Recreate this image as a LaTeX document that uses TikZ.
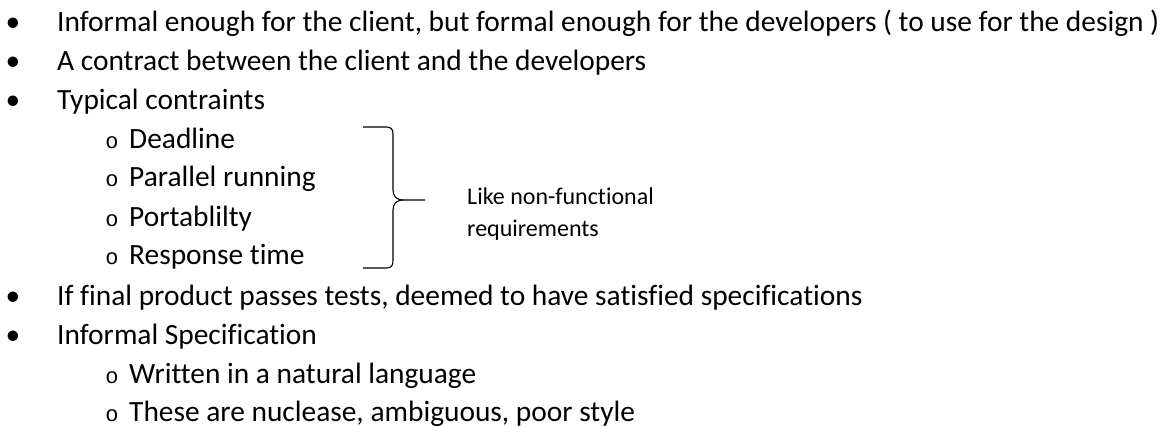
\documentclass[tikz,border=0pt]{standalone}
\usepackage{fontspec}
\setmainfont{Carlito}[Ligatures=NoCommon]
\newfontfamily\bulletmono{Liberation Mono}
\begin{document}
\begin{tikzpicture}[x=1pt,y=-1pt,
  itemtext/.style={anchor=base west,inner sep=0pt,font=\fontsize{29.4}{34}\selectfont},
  dotmark/.style={anchor=base,inner sep=0pt,font=\fontsize{29.4}{34}\selectfont},
  ringmark/.style={anchor=base,inner sep=0pt,font=\fontsize{22}{26}\bulletmono},
  notetext/.style={anchor=base west,inner sep=0pt,font=\fontsize{24}{28}\selectfont},
  bracepath/.style={line width=1.1pt}]
\useasboundingbox (0,0) rectangle (1165,427);
% top-level items
\node[dotmark] (d1) at (13,32) {•};
\node[itemtext] (t1) at (57,32) {Informal enough for the client, but formal enough for the developers ( to use for the design )};
\node[dotmark] (d2) at (13,71) {•};
\node[itemtext] (t2) at (57,71) {A contract between the client and the developers};
\node[dotmark] (d3) at (13,110) {•};
\node[itemtext] (t3) at (57,110) {Typical contraints};
% constraints
\node[ringmark] (r1) at (112,149) {o};
\node[itemtext] (s1) at (129,149) {Deadline};
\node[ringmark] (r2) at (112,187) {o};
\node[itemtext] (s2) at (129,187) {Parallel running};
\node[ringmark] (r3) at (112,227) {o};
\node[itemtext] (s3) at (129,227) {Portablilty};
\node[ringmark] (r4) at (112,265) {o};
\node[itemtext] (s4) at (129,265) {Response time};
% brace grouping the constraints
\draw[bracepath] (363,127) -- (386,127) .. controls (391,127) and (393,129) .. (393,134)
  -- (393,190) .. controls (393,196) and (396,200) .. (404,200) -- (425,200);
\draw[bracepath] (404,200) .. controls (396,200) and (393,204) .. (393,210)
  -- (393,261) .. controls (393,266) and (391,268) .. (386,268) -- (363,268);
\node[notetext] (n1) at (467,205) {Like non-functional};
\node[notetext] (n2) at (467,237) {requirements};
% remaining items
\node[dotmark] (d4) at (13,306) {•};
\node[itemtext] (t4) at (57,306) {If final product passes tests, deemed to have satisfied specifications};
\node[dotmark] (d5) at (13,345) {•};
\node[itemtext] (t5) at (57,345) {Informal Specification};
\node[ringmark] (r5) at (112,384) {o};
\node[itemtext] (s5) at (129,384) {Written in a natural language};
\node[ringmark] (r6) at (112,422) {o};
\node[itemtext] (s6) at (129,422) {These are nuclease, ambiguous, poor style};
\end{tikzpicture}
\end{document}
